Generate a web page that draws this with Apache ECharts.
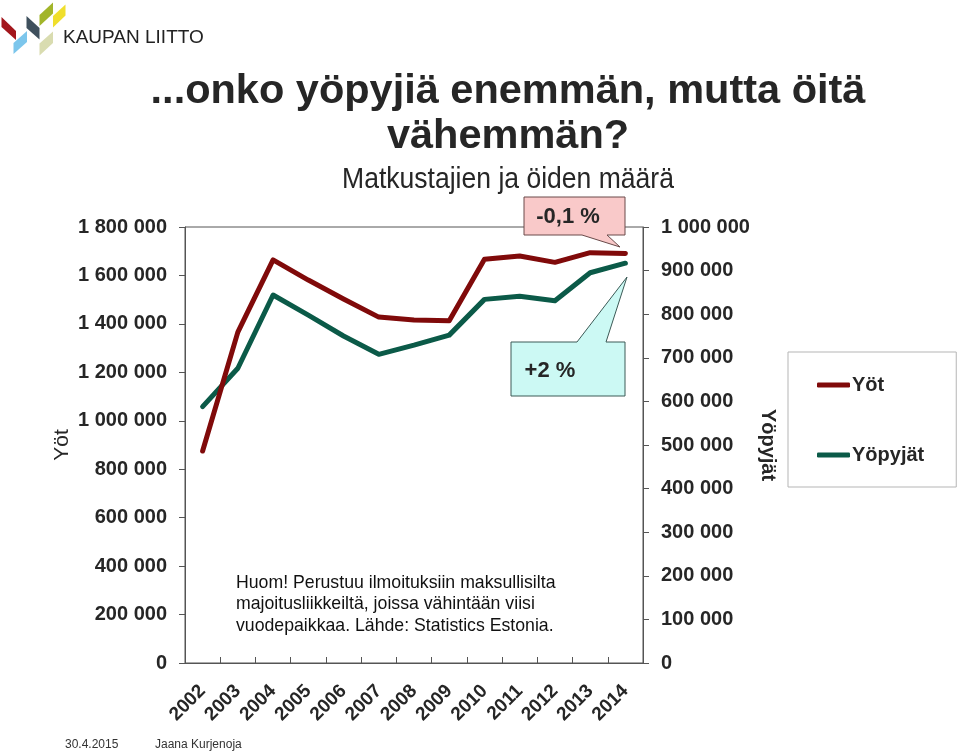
<!DOCTYPE html>
<html>
<head>
<meta charset="utf-8">
<script src="https://cdn.jsdelivr.net/npm/echarts@6/dist/echarts.min.js"></script>
<style>html,body{margin:0;padding:0;background:#fff;}#c{width:959px;height:752px;}</style>
</head>
<body>
<div id="c"></div>
<script>
// ---- data ----
const years = ['2002','2003','2004','2005','2006','2007','2008','2009','2010','2011','2012','2013','2014'];
const nights = [875000,1366000,1664000,1581000,1503000,1428000,1416000,1413000,1667000,1680000,1654000,1694000,1691000]; // Yöt
const lodgers = [588000,676000,844000,798000,750000,708000,729000,752000,834000,841000,831000,895000,917000]; // Yöpyjät
const leftAxisRange = [0, 1800000, 200000];
const rightAxisRange = [0, 1000000, 100000];
const seriesNames = ['Yöt', 'Yöpyjät'];
const titleLines = ['...onko yöpyjiä enemmän, mutta öitä', 'vähemmän?'];
const subtitle = 'Matkustajien ja öiden määrä';
const noteText = 'Huom! Perustuu ilmoituksiin maksullisilta\nmajoitusliikkeiltä, joissa vähintään viisi\nvuodepaikkaa. Lähde: Statistics Estonia.';
const calloutNights = '-0,1 %';
const calloutLodgers = '+2 %';

const FONT = '"Liberation Sans", Arial, sans-serif';
const TXT = '#262626';
const RED = '#800a0a';
const GREEN = '#0b5a48';
const fmt = v => String(v).replace(/\B(?=(\d{3})+(?!\d))/g, ' ');

const chart = echarts.init(document.getElementById('c'), null, {renderer: 'canvas'});

const logoShapes = [
  {pts: [[1.5,17],[16,31],[16,40],[1.5,27]], c: '#a3161c'},
  {pts: [[13.5,43],[27,31],[27,42],[13.5,54]], c: '#7cc6ec'},
  {pts: [[26.5,16],[39.5,28],[39.5,39.5],[26.5,28]], c: '#3f505d'},
  {pts: [[39.5,15],[53,2.5],[53,13.5],[39.5,26]], c: '#a2b52a'},
  {pts: [[53,16],[65.5,4.5],[65.5,15.5],[53,27.5]], c: '#f0df2c'},
  {pts: [[39.5,43.5],[53,31.5],[53,43],[39.5,55.5]], c: '#d9dcb0'}
];

const graphics = [];
logoShapes.forEach(s => graphics.push({type: 'polygon', shape: {points: s.pts}, style: {fill: s.c}, silent: true}));
graphics.push({type: 'text', x: 63, y: 38, style: {text: 'KAUPAN LIITTO', font: '19px ' + FONT, fill: '#222', textAlign: 'left', textVerticalAlign: 'middle'}});
graphics.push({type: 'text', x: 508, y: 92, style: {text: titleLines[0], font: 'bold 41.5px ' + FONT, fill: TXT, textAlign: 'center', textVerticalAlign: 'middle'}});
graphics.push({type: 'text', x: 508, y: 137, style: {text: titleLines[1], font: 'bold 41.5px ' + FONT, fill: TXT, textAlign: 'center', textVerticalAlign: 'middle'}});
graphics.push({type: 'text', x: 508, y: 180, scaleX: 0.915, style: {text: subtitle, font: '29px ' + FONT, fill: TXT, textAlign: 'center', textVerticalAlign: 'middle'}});
// callouts
graphics.push({type: 'polygon', z: 10, shape: {points: [[524,197],[625,197],[625,235],[607,235],[620,247],[582,235],[524,235]]}, style: {fill: '#f9c9c9', stroke: '#6a4a4a', lineWidth: 1}});
graphics.push({type: 'text', z: 11, x: 568, y: 217, style: {text: calloutNights, font: 'bold 22px ' + FONT, fill: TXT, textAlign: 'center', textVerticalAlign: 'middle'}});
graphics.push({type: 'polygon', z: 10, shape: {points: [[511,342],[577,342],[627,277],[606,342],[625,342],[625,396],[511,396]]}, style: {fill: '#ccf9f4', stroke: '#3c5a56', lineWidth: 1}});
graphics.push({type: 'text', z: 11, x: 550, y: 371, style: {text: calloutLodgers, font: 'bold 22px ' + FONT, fill: TXT, textAlign: 'center', textVerticalAlign: 'middle'}});
// note
graphics.push({type: 'text', x: 236, y: 572, style: {text: noteText, font: '17.7px ' + FONT, fill: '#111', lineHeight: 21.5, textAlign: 'left', textVerticalAlign: 'top'}});
// footer
graphics.push({type: 'text', x: 65, y: 745, style: {text: '30.4.2015', font: '12px ' + FONT, fill: '#333', textAlign: 'left', textVerticalAlign: 'middle'}});
graphics.push({type: 'text', x: 155, y: 745, style: {text: 'Jaana Kurjenoja', font: '12px ' + FONT, fill: '#333', textAlign: 'left', textVerticalAlign: 'middle'}});

const axisLabelStyle = {color: TXT, fontFamily: FONT, fontWeight: 'bold', fontSize: 20};

const option = {
  animation: false,
  backgroundColor: '#fff',
  textStyle: {fontFamily: FONT},
  grid: {left: 185, right: 316, top: 227, bottom: 89, show: true, borderColor: '#555', borderWidth: 1, outerBoundsMode: 'none', containLabel: false},
  legend: {
    orient: 'vertical', left: 788, top: 352,
    padding: [23, 32, 22, 29], itemGap: 50, itemWidth: 33, itemHeight: 5,
    icon: 'roundRect',
    borderColor: '#b5b5b5', borderWidth: 1,
    textStyle: {color: TXT, fontFamily: FONT, fontWeight: 'bold', fontSize: 20, padding: [0,0,0,-3]},
    data: [
      {name: seriesNames[0], itemStyle: {color: RED}},
      {name: seriesNames[1], itemStyle: {color: GREEN}}
    ]
  },
  xAxis: {
    type: 'category', data: years, boundaryGap: true,
    axisLine: {lineStyle: {color: '#555', width: 1}},
    axisTick: {show: true, inside: true, length: 6, lineStyle: {color: '#555'}},
    axisLabel: Object.assign({}, axisLabelStyle, {rotate: 45, interval: 0, margin: 25, fontSize: 19})
  },
  yAxis: [
    {
      type: 'value', position: 'left', min: leftAxisRange[0], max: leftAxisRange[1], interval: leftAxisRange[2],
      name: seriesNames[0], nameLocation: 'middle', nameRotate: 90, nameGap: 112,
      nameTextStyle: {color: TXT, fontFamily: FONT, fontSize: 21},
      axisLine: {show: true, lineStyle: {color: '#555'}},
      axisTick: {show: true, length: 6, lineStyle: {color: '#555'}},
      splitLine: {show: false},
      axisLabel: Object.assign({margin: 18, formatter: fmt}, axisLabelStyle)
    },
    {
      type: 'value', position: 'right', min: rightAxisRange[0], max: rightAxisRange[1], interval: rightAxisRange[2],
      name: seriesNames[1], nameLocation: 'middle', nameRotate: -90, nameGap: 115,
      nameTextStyle: {color: TXT, fontFamily: FONT, fontSize: 20, fontWeight: 'bold'},
      axisLine: {show: true, lineStyle: {color: '#555'}},
      axisTick: {show: true, length: 6, lineStyle: {color: '#555'}},
      splitLine: {show: false},
      axisLabel: Object.assign({margin: 18, formatter: fmt}, axisLabelStyle)
    }
  ],
  series: [
    {
      name: seriesNames[1], type: 'line', yAxisIndex: 1, data: lodgers,
      symbol: 'none', lineStyle: {color: GREEN, width: 5, cap: 'round', join: 'round'},
      itemStyle: {color: GREEN}, z: 3
    },
    {
      name: seriesNames[0], type: 'line', yAxisIndex: 0, data: nights,
      symbol: 'none', lineStyle: {color: RED, width: 5, cap: 'round', join: 'round'},
      itemStyle: {color: RED}, z: 4
    }
  ],
  graphic: graphics
};
chart.setOption(option);
</script>
</body>
</html>
